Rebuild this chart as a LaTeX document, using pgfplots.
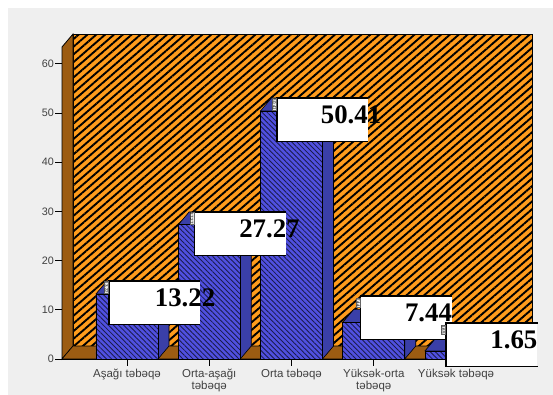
\documentclass[border=0pt]{standalone}
\usepackage{pgfplots}
\pgfplotsset{compat=1.18}
\usepackage{fontspec}
\setmainfont{Liberation Sans}
\newfontfamily\valfont{Liberation Serif}[BoldFont={Liberation Serif Bold}]
\usetikzlibrary{patterns.meta}
\definecolor{pagegray}{HTML}{EFEFEF}
\definecolor{wallorange}{HTML}{FF9C1C}
\definecolor{wallbrown}{HTML}{9C5C12}
\definecolor{barblue}{HTML}{5050E0}
\definecolor{sideblue}{HTML}{3A3FA8}
\definecolor{tickgray}{HTML}{404040}
\tikzset{
  wallp/.style={preaction={fill=wallorange},pattern={Lines[angle=41,distance=5.8pt,line width=1.9pt]},pattern color=black},
  barp/.style={preaction={fill=barblue},pattern={Lines[angle=-45,distance=3.6pt,line width=.85pt]},pattern color=black!55!sideblue},
}
\newcommand\valbox[3]{%
  \node[fill=white,inner sep=0pt,minimum width=91pt,minimum height=43pt,anchor=north west] (#1n) at (#1) {};
  \draw[line width=1.4pt,black] (#1n.north east)--(#1n.north west)--(#1n.south west)--(#1n.south east);
  \node[anchor=east,inner sep=0pt,font=\valfont\bfseries\fontsize{26.8}{27}\selectfont] at ([xshift=#3,yshift=5pt]#1n.east) {#2};
  \node[fill=white!85!gray,draw=black!60,line width=.3pt,inner sep=.4pt,rotate=-90,anchor=north,font=\fontsize{4.5}{5}\selectfont] at ([xshift=-.5pt,yshift=-6.5pt]#1n.north west) {#2};
}
\begin{document}
\begin{tikzpicture}[x=1pt,y=1pt]
\path[use as bounding box] (0,0) rectangle (553,395);
\fill[white] (0,0) rectangle (553,395);
\fill[pagegray] (8,0) rectangle (553,387);
\begin{axis}[
  at={(62pt,36pt)},anchor=south west,
  scale only axis,width=459pt,height=312pt,
  xmin=-0.79,xmax=4.79,ymin=0,ymax=63.4,
  clip=false,
  axis x line*=bottom,axis y line*=left,
  axis line style={-,black,line width=.8pt},
  ytick={0,10,20,30,40,50,60},
  xtick={0,1,2,3,4},
  xticklabels={{Aşağı təbəqə},{Orta-aşağı\\təbəqə},{Orta təbəqə},{Yüksək-orta\\təbəqə},{Yüksək təbəqə}},
  tick align=outside,major tick length=7pt,
  tick style={black,line width=.8pt},
  tick label style={font=\fontsize{10.8}{12}\selectfont,text=tickgray},
  xticklabel style={align=center,yshift=-1.5pt,inner sep=1pt,font=\fontsize{11.5}{12}\selectfont},
  yticklabel style={inner sep=1pt},
  /pgf/number format/assume math mode=true,
]
% walls
\addplot[wallp,draw=black,line width=.8pt,forget plot] coordinates {(-0.656,2.64)(4.924,2.64)(4.924,66.04)(-0.656,66.04)} --cycle;
\addplot[fill=wallbrown,draw=black,line width=.8pt,forget plot] coordinates {(-0.79,0)(-0.656,2.64)(-0.656,66.04)(-0.79,63.4)} --cycle;
\addplot[fill=wallbrown,draw=black,line width=.6pt,forget plot] coordinates {(-0.79,0)(4.79,0)(4.924,2.64)(-0.656,2.64)} --cycle;
% side faces
\addplot[fill=sideblue,draw=black,line width=.6pt,forget plot] coordinates {(0.377,0)(0.511,2.64)(0.511,15.86)(0.377,13.22)} --cycle;
\addplot[fill=sideblue,draw=black,line width=.6pt,forget plot] coordinates {(1.377,0)(1.511,2.64)(1.511,29.91)(1.377,27.27)} --cycle;
\addplot[fill=sideblue,draw=black,line width=.6pt,forget plot] coordinates {(2.377,0)(2.511,2.64)(2.511,53.05)(2.377,50.41)} --cycle;
\addplot[fill=sideblue,draw=black,line width=.6pt,forget plot] coordinates {(3.377,0)(3.511,2.64)(3.511,10.08)(3.377,7.44)} --cycle;
\addplot[fill=sideblue,draw=black,line width=.6pt,forget plot] coordinates {(4.377,0)(4.511,2.64)(4.511,4.29)(4.377,1.65)} --cycle;
% top faces
\addplot[fill=sideblue,draw=black,line width=.6pt,forget plot] coordinates {(-0.377,13.22)(0.377,13.22)(0.511,15.86)(-0.243,15.86)} --cycle;
\addplot[fill=sideblue,draw=black,line width=.6pt,forget plot] coordinates {(0.623,27.27)(1.377,27.27)(1.511,29.91)(0.757,29.91)} --cycle;
\addplot[fill=sideblue,draw=black,line width=.6pt,forget plot] coordinates {(1.623,50.41)(2.377,50.41)(2.511,53.05)(1.757,53.05)} --cycle;
\addplot[fill=sideblue,draw=black,line width=.6pt,forget plot] coordinates {(2.623,7.44)(3.377,7.44)(3.511,10.08)(2.757,10.08)} --cycle;
\addplot[fill=sideblue,draw=black,line width=.6pt,forget plot] coordinates {(3.623,1.65)(4.377,1.65)(4.511,4.29)(3.757,4.29)} --cycle;
% fronts
\addplot[ybar,bar width=62pt,barp,draw=black,line width=.6pt] coordinates {(0,13.22)(1,27.27)(2,50.41)(3,7.44)(4,1.65)};
\coordinate (a) at (axis cs:-0.219,15.85);
\coordinate (b) at (axis cs:0.82,29.9);
\coordinate (c) at (axis cs:1.824,53.05);
\coordinate (d) at (axis cs:2.842,12.8);
\coordinate (e) at (axis cs:3.88,7.3);
\end{axis}
\valbox{a}{13.22}{15pt}
\valbox{b}{27.27}{14pt}
\valbox{c}{50.41}{13pt}
\valbox{d}{7.44}{0pt}
\valbox{e}{1.65}{0pt}
\end{tikzpicture}
\end{document}
